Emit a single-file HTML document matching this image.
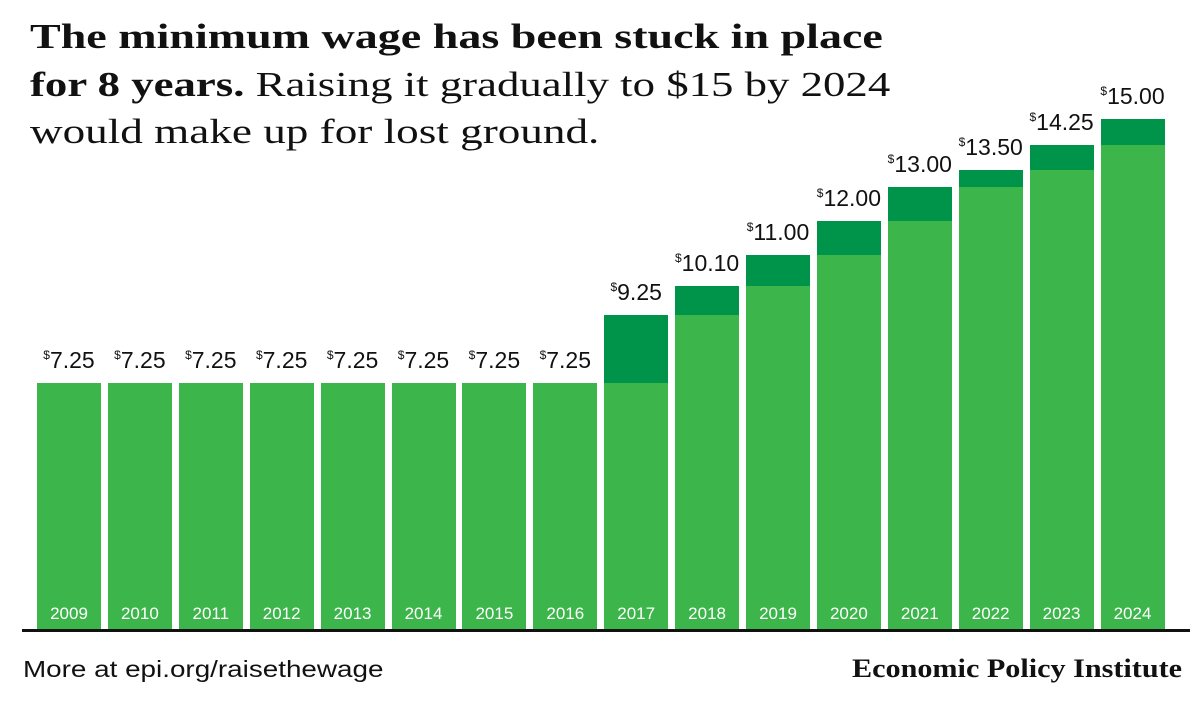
<!DOCTYPE html>
<html><head><style>
body{margin:0;width:1200px;height:710px;background:#fff;position:relative;overflow:hidden;font-family:"Liberation Sans",sans-serif;}
.t{position:absolute;left:30px;font-size:35px;line-height:47px;color:#111;font-family:"Liberation Serif",serif;white-space:nowrap;transform-origin:0 50%;}
.t b{font-weight:900;}
.bar{position:absolute;width:64px;background:#3cb54a;bottom:80px;}
.dk{position:absolute;left:0;right:0;top:0;background:#00934a;}
.yr{position:absolute;bottom:6px;left:0;right:0;text-align:center;color:#fff;font-size:17px;}
.v{position:absolute;width:90px;text-align:center;font-size:23px;color:#111;}
.v sup{font-size:12px;vertical-align:9px;}
.ax{position:absolute;left:22px;width:1168px;top:629px;height:3px;background:#111;}
.f1{position:absolute;left:23px;top:656px;font-size:23px;color:#111;transform:scaleX(1.21);transform-origin:0 50%;white-space:nowrap;}
.f2{position:absolute;left:852px;top:654px;font-size:26px;font-weight:bold;font-family:"Liberation Serif",serif;color:#111;transform:scaleX(1.16);transform-origin:0 50%;white-space:nowrap;}
</style></head><body>
<div class="t" style="top:13px;transform:scaleX(1.315)"><b>The minimum wage has been stuck in place</b></div>
<div class="t" style="top:61px;transform:scaleX(1.28)"><b>for 8 years.</b> Raising it gradually to $15 by 2024</div>
<div class="t" style="top:108px;transform:scaleX(1.29)">would make up for lost ground.</div>
<div id="c"></div>
<div class="ax"></div>
<div class="f1">More at epi.org/raisethewage</div>
<div class="f2">Economic Policy Institute</div>
<script>
var v=[7.25,7.25,7.25,7.25,7.25,7.25,7.25,7.25,9.25,10.10,11.00,12.00,13.00,13.50,14.25,15.00];
var h='',s=34.07;
for(var i=0;i<16;i++){
var x=37+i*70.9,ht=v[i]*s,prev=i>0?v[i-1]:v[i],d=(v[i]-prev)*s;
h+='<div class="bar" style="left:'+x+'px;height:'+ht+'px">'+(d>0?'<div class="dk" style="height:'+d+'px"></div>':'')+'<div class="yr">'+(2009+i)+'</div></div>';
h+='<div class="v" style="left:'+(x-13)+'px;top:'+(630-ht-36)+'px"><sup>$</sup>'+v[i].toFixed(2)+'</div>';
}
document.getElementById('c').innerHTML=h;
</script>
</body></html>
